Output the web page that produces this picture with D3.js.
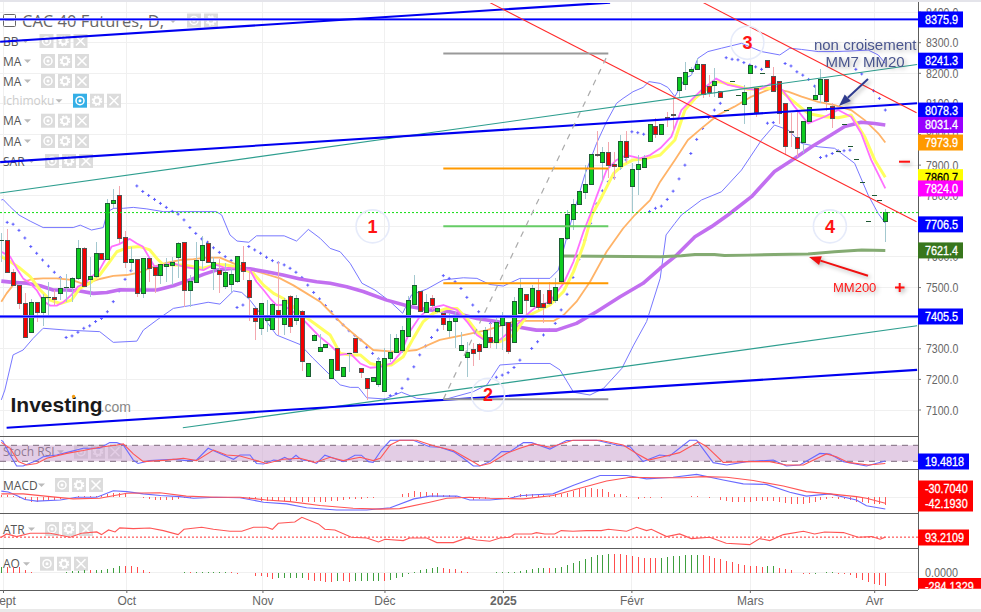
<!DOCTYPE html>
<html><head><meta charset="utf-8">
<script src="https://cdn.jsdelivr.net/npm/d3@7"></script>
<style>html,body{margin:0;padding:0;background:#fff;overflow:hidden}text{font-family:"Liberation Sans",Arial,sans-serif}</style>
</head><body><svg id="c" width="981" height="612"></svg>
<script>
const title="CAC 40 Futures, D,";
const opens=[7653,7657,7552,7507,7448,7354,7452,7421,7467,7468,7481,7500,7501,7530,7628,7527,7537,7612,7592,7775,7801,7664,7585,7592,7483,7598,7566,7542,7571,7575,7601,7648,7493,7519,7589,7644,7565,7559,7506,7513,7522,7582,7524,7432,7369,7395,7366,7426,7381,7471,7393,7422,7210,7328,7292,7307,7206,7301,7210,7284,7334,7236,7203,7194,7184,7162,7271,7288,7295,7341,7445,7488,7419,7465,7424,7416,7360,7391,7295,7272,7298,7314,7305,7337,7321,7377,7386,7321,7416,7478,7441,7491,7448,7491,7458,7520,7661,7724,7772,7813,7837,7938,7911,7942,7904,7898,7978,7831,7886,7893,7978,8027,8001,8058,8068,8144,8164,8206,8213,8232,8157,8161,8141,8081,8176,8130,8099,8200,8151,8201,8242,8190,8174,8102,8013,7991,7977,8043,8115,8131,8183,8092,7948,8035,7963,7920,7845,7718,7802,7786,7718];
const highs=[7677,7691,7561,7507,7481,7463,7452,7478,7517,7492,7536,7543,7536,7655,7634,7601,7648,7612,7789,7822,7832,7685,7634,7592,7598,7598,7568,7576,7595,7601,7648,7648,7541,7648,7669,7652,7601,7592,7579,7563,7602,7636,7555,7432,7448,7459,7448,7585,7465,7476,7476,7427,7252,7347,7347,7314,7265,7301,7241,7285,7334,7236,7203,7207,7269,7301,7347,7347,7374,7473,7541,7488,7478,7476,7432,7421,7416,7421,7356,7323,7318,7318,7372,7383,7408,7419,7389,7470,7528,7478,7508,7528,7478,7519,7530,7661,7753,7791,7814,7900,7938,8011,7960,7974,7942,7998,8011,7906,7933,7933,8035,8053,8033,8075,8124,8187,8238,8222,8249,8232,8194,8216,8141,8081,8176,8130,8162,8226,8151,8201,8242,8222,8174,8102,8069,8080,8043,8089,8162,8213,8183,8102,7948,8035,7963,7920,7845,7718,7802,7786,7756];
const lows=[7585,7550,7507,7430,7340,7354,7389,7375,7399,7443,7459,7452,7452,7525,7503,7470,7530,7592,7590,7759,7644,7563,7552,7470,7467,7519,7483,7512,7519,7508,7530,7438,7438,7514,7557,7585,7492,7482,7495,7484,7514,7525,7391,7329,7345,7356,7361,7345,7345,7350,7378,7227,7210,7325,7292,7307,7206,7230,7210,7225,7288,7206,7133,7194,7176,7162,7258,7288,7285,7341,7445,7422,7416,7427,7416,7361,7340,7301,7295,7209,7245,7263,7301,7301,7299,7296,7282,7318,7416,7405,7441,7427,7383,7443,7448,7514,7655,7688,7772,7789,7837,7928,7846,7857,7851,7884,7906,7748,7802,7893,7978,7990,8001,8026,8009,8118,8145,8194,8213,8118,8124,8124,8121,8080,8175,8129,8036,8200,8058,8200,8219,8141,8036,7938,7960,7928,7941,8043,8115,8102,8077,8022,7947,8034,7962,7919,7844,7717,7801,7785,7650];
const closes=[7654,7550,7507,7448,7340,7452,7421,7468,7468,7464,7500,7501,7530,7628,7506,7537,7612,7592,7775,7786,7663,7585,7592,7483,7595,7565,7542,7576,7576,7582,7644,7493,7520,7589,7638,7585,7585,7545,7550,7543,7602,7555,7470,7392,7448,7412,7445,7405,7461,7375,7465,7261,7252,7344,7305,7314,7265,7230,7241,7285,7288,7223,7171,7207,7261,7269,7288,7334,7360,7458,7510,7422,7452,7444,7432,7380,7390,7405,7311,7288,7285,7293,7363,7321,7386,7403,7292,7455,7497,7461,7497,7435,7435,7448,7501,7661,7739,7772,7814,7840,7938,7934,7944,7901,7898,7978,7925,7886,7903,7922,8035,8001,8033,8052,8065,8187,8203,8213,8229,8133,8140,8174,8121,8080,8175,8129,8138,8226,8072,8200,8219,8141,8069,7961,8007,7955,8043,8089,8128,8183,8108,8053,7947,8034,7962,7919,7844,7717,7801,7785,7748];

const mm7=[[0,7617],[1.5,7601],[2.6,7563],[3.7,7530],[4.9,7514],[6,7492],[7.1,7456],[8.3,7441],[9.4,7441],[10.5,7452],[11.9,7476],[13,7503],[14.2,7514],[15.3,7536],[16.5,7552],[17.6,7590],[18.7,7634],[19.9,7641],[21.8,7659],[23,7644],[24,7634],[25.2,7595],[26,7568],[27.5,7574],[29.2,7579],[30.9,7568],[32.6,7563],[34.3,7557],[35.4,7568],[36.5,7574],[38.2,7563],[40.5,7563],[42.2,7557],[43.3,7519],[44.5,7492],[45.6,7465],[46.7,7443],[47.8,7443],[49.5,7421],[51,7399],[52.4,7372],[54,7340],[55.8,7312],[57.5,7280],[59.2,7285],[60.9,7252],[62.6,7238],[64.3,7241],[66.2,7252],[67.9,7290],[69.3,7356],[71,7405],[72.7,7432],[75,7443],[77.3,7427],[79,7389],[80.7,7345],[82.4,7323],[84.6,7329],[86.9,7367],[89.1,7410],[90.8,7438],[93.1,7454],[95.4,7514],[97.1,7585],[98.8,7683],[99.9,7737],[101,7797],[102.7,7884],[104.4,7917],[106.1,7933],[108.4,7922],[110.1,7933],[111.8,7955],[113.7,7993],[115.4,8080],[117.1,8113],[118.8,8145],[121.3,8183],[123.3,8162],[126.1,8151],[128.4,8145],[130.7,8167],[132.6,8145],[134.6,8091],[136.9,8036],[139.7,8058],[142,8080],[144.2,8058],[145.9,8004],[147.6,7917],[150,7824]];
const mm20=[[0,7601],[1.5,7585],[3.2,7563],[4.9,7536],[6.6,7492],[8.3,7459],[10,7448],[11.9,7459],[13.3,7497],[15,7514],[16.7,7541],[18.4,7585],[19.6,7617],[21.3,7630],[23.5,7634],[25.2,7623],[26.4,7595],[27.5,7574],[29.2,7574],[30.9,7574],[32.6,7568],[34.3,7563],[36.5,7576],[38.2,7574],[40.5,7565],[42.8,7546],[44.5,7508],[46.2,7481],[47.8,7465],[49.5,7438],[51.2,7410],[53.5,7378],[55.8,7345],[57.5,7285],[59.2,7280],[60.9,7280],[62.6,7252],[64.3,7245],[66.2,7247],[68.2,7274],[69.9,7334],[71.6,7389],[73.3,7416],[75.6,7432],[77.3,7432],[79,7399],[80.7,7356],[82.4,7323],[84.6,7323],[86.9,7345],[89.1,7405],[90.8,7421],[93.1,7443],[95.4,7487],[97.1,7552],[98.8,7639],[100.2,7737],[101.9,7797],[103.9,7873],[105.5,7900],[107.2,7917],[109.5,7922],[111.8,7933],[114.3,7982],[116,8080],[117.7,8118],[119.4,8145],[121.6,8173],[124.2,8162],[126.7,8148],[129.5,8151],[131.8,8151],[134.1,8113],[136.9,8069],[139.7,8058],[142,8055],[144.2,8064],[146.5,7993],[148.2,7917],[150,7860.7]];
const mmOrange=[[0,7454],[0.9,7481],[2,7508],[3.7,7519],[5.4,7528],[7.1,7530],[9.4,7530],[11.9,7525],[13.9,7512],[15.3,7519],[16.7,7528],[19,7538],[21.3,7541],[23.5,7550],[25.8,7568],[28,7581],[30.3,7590],[32.6,7593],[34.8,7598],[37.1,7598],[39.4,7579],[41.6,7563],[44.5,7546],[47.3,7530],[49.5,7508],[51.8,7481],[54.1,7454],[55.8,7421],[58,7378],[60.3,7340],[63.1,7296],[67.1,7290],[70.5,7296],[74.4,7329],[78.4,7345],[82.4,7361],[85.2,7378],[87.4,7391],[90.8,7391],[93.7,7391],[95.4,7410],[97.6,7454],[99.9,7519],[102.7,7617],[105.5,7693],[107.5,7737],[110.1,7786],[111.8,7846],[114.3,7917],[116.5,7982],[118.8,8020],[121.6,8064],[124.4,8091],[127.3,8124],[130.7,8151],[133.5,8140],[135.8,8124],[138.6,8107],[141.4,8096],[144.2,8080],[146.5,8047],[148.8,8004],[150,7973.9]];
const mmPurple=[[0,7521],[2,7517],[4.3,7514],[6.6,7506],[8.8,7492],[11.1,7492],[13.3,7489],[15.6,7481],[17.9,7484],[20.1,7493],[23,7492],[26.4,7492],[29.2,7506],[32,7525],[34.3,7543],[36.5,7557],[39.4,7563],[42.2,7561],[45,7552],[47.8,7541],[50.7,7528],[53.5,7519],[55.8,7514],[58.6,7503],[61.4,7487],[65.4,7459],[69.3,7438],[72.7,7427],[76.1,7421],[80.7,7399],[84.1,7389],[87.4,7372],[90.8,7361],[94.2,7361],[97.6,7383],[101,7421],[105,7470],[108.9,7514],[111.8,7563],[114.3,7601],[117.7,7666],[120.5,7699],[123.3,7737],[127.3,7797],[131.2,7879],[134.6,7922],[137.5,7960],[140.3,7993],[143.1,8026],[145.9,8040],[148.2,8036],[150,8031.4]];
const mm200=[[95.4,7603],[111.8,7601],[115.4,7604],[117.7,7608],[121,7608],[122.7,7605],[126.7,7606],[131.2,7608],[136.9,7610],[141.4,7617],[146,7623],[150,7621.4]];
const bbUpper=[[0,7786],[0.3,7788],[1.5,7764],[3,7737],[4.9,7717],[7.1,7696],[12.2,7696],[13.4,7704],[15.3,7688],[17.3,7696],[18,7748],[19.1,7759],[20.7,7759],[22.4,7762],[24.7,7757],[27.5,7748],[29.7,7748],[33.7,7748],[36.5,7748],[37.4,7737],[38.8,7672],[40,7652],[42,7648],[43.3,7669],[48,7669],[50.1,7652],[52.1,7690],[54.1,7661],[55.8,7628],[57.5,7617],[59.2,7579],[61.2,7514],[63.4,7492],[66,7454],[68.1,7416],[69.6,7476],[72.2,7495],[75,7525],[78.4,7532],[80.7,7530],[82.9,7510],[85.2,7505],[88,7530],[93.1,7530],[94.5,7557],[96.2,7683],[99,7868],[101,7971],[102.7,8042],[104.4,8102],[105.5,8118],[107.2,8140],[108.9,8154],[109.9,8173],[111.8,8167],[113.1,8154],[114.3,8124],[116,8183],[117.1,8194],[118.2,8249],[119.9,8271],[122.2,8282],[125.6,8298],[129,8271],[132.1,8260],[133.8,8282],[135.8,8278],[138.6,8271],[141.4,8271],[144.2,8273],[147.1,8276],[148.8,8260],[150,8232]];
const bbLower=[[0,7133],[0.6,7165],[2,7280],[3.7,7296],[5.4,7334],[7.1,7367],[11.1,7361],[16.7,7356],[19,7321],[23,7325],[24.1,7361],[26.4,7394],[29.2,7432],[32.6,7443],[35.1,7452],[37.1,7446],[39.4,7489],[40.8,7484],[42.2,7459],[45,7389],[46.7,7345],[50.7,7314],[52.9,7269],[55.8,7214],[57.5,7182],[59.2,7174],[60.6,7174],[62,7140],[65.1,7136],[67.9,7158],[70.5,7138],[75,7133],[80.1,7160],[82.4,7182],[84.6,7247],[88,7252],[93.1,7252],[94.8,7231],[97.1,7158],[99.9,7149],[102.2,7171],[105.3,7236],[107.3,7312],[109.5,7389],[111.8,7530],[112.8,7672],[114.3,7710],[115.4,7737],[118.8,7786],[122.2,7813],[125.6,7884],[129,7982],[131.2,8031],[133.5,8015],[135.8,7971],[138.6,7960],[141.4,7955],[144.8,7906],[147.1,7802],[148.8,7742],[150,7710]];
const sar=[[1,7713],[2,7707],[3,7687],[4,7662],[5,7634],[6,7612],[7,7590],[8,7570],[9,7550],[10,7533],[11,7337],[12,7342],[13,7354],[14,7367],[15,7375],[16,7389],[17,7399],[18,7421],[19,7454],[20,7489],[21,7527],[22,7555],[23,7832],[24,7814],[25,7801],[26,7788],[27,7775],[28,7762],[29,7749],[30,7740],[31,7721],[32,7696],[33,7677],[34,7659],[35,7648],[36,7630],[37,7615],[38,7601],[39,7588],[40,7435],[41,7443],[42,7634],[43,7623],[44,7612],[45,7599],[46,7588],[47,7581],[48,7574],[49,7563],[50,7550],[51,7533],[52,7508],[53,7484],[54,7463],[55,7441],[56,7421],[57,7396],[58,7378],[59,7359],[60,7343],[61,7329],[62,7305],[63,7285],[64,7267],[65,7133],[66,7147],[67,7154],[68,7171],[69,7201],[70,7241],[71,7280],[72,7309],[73,7337],[74,7361],[75,7539],[76,7530],[77,7519],[78,7497],[79,7468],[80,7443],[81,7421],[82,7399],[83,7383],[84,7207],[85,7214],[86,7222],[87,7239],[88,7263],[90,7301],[91,7323],[92,7345],[93,7361],[94,7383],[95,7427],[96,7478],[97,7533],[98,7592],[99,7655],[100,7710],[101,7773],[102,7816],[103,7846],[104,7859],[105,7889],[106,7917],[107,8009],[108,8006],[109,8001],[110,7748],[111,7759],[112,7766],[113,7788],[114,7815],[115,7855],[116,7900],[117,7938],[118,7984],[119,8020],[120,8056],[121,8080],[122,8102],[123,8251],[124,8246],[125,8244],[126,8235],[127,8227],[128,8221],[129,8213],[130,8037],[131,8039],[133,8232],[134,8224],[135,8205],[136,8194],[137,8180],[138,8158],[139,7925],[140,7930],[141,7938],[142,7947],[143,7947],[144,7949],[145,8213],[146,8198],[148,8143],[149,8118],[150,8080]];

const stochBlue=[[0,100],[0.3,95],[1.5,43],[2.6,0],[3.7,0],[6,21],[7.1,36],[9.4,43],[11.7,56],[13.9,69],[16.7,69],[18.4,91],[19.6,91],[20.7,82],[22.4,23],[23.2,10],[25.2,21],[29.2,26],[31.4,21],[33.1,23],[35.1,69],[37.1,49],[39.4,26],[40.5,43],[42.2,43],[43.3,10],[44.5,8],[46.2,23],[47,21],[48.1,34],[49,23],[50,42],[51,23],[52.1,21],[53.5,10],[54.9,42],[56.9,26],[58,17],[60,42],[61.1,42],[62.3,17],[63.1,14],[64.5,62],[66,100],[69.9,100],[72.7,75],[74.4,73],[76.7,56],[78.4,30],[80.1,0],[81.2,0],[82.9,17],[84.9,56],[86.3,56],[88.6,91],[90,91],[93.1,66],[95.9,99],[101,100],[104.4,82],[106.7,75],[108.9,17],[111.7,43],[113.4,39],[116.8,100],[118,100],[120.8,13],[123.1,4],[126.5,17],[131,23],[133.2,0],[135.5,4],[138.9,49],[140.6,47],[142.9,17],[146.8,0],[150,19.48]];
const stochRed=[[0,92],[1.5,69],[2.9,17],[4.3,4],[6,10],[7.7,30],[11.1,49],[13.9,60],[16.7,73],[19.6,82],[20.7,86],[22.4,47],[24.1,17],[28.1,23],[30.9,30],[33.1,21],[36,62],[38.2,43],[40.5,39],[43.3,21],[45,10],[47.8,26],[50.7,30],[53.2,14],[55.8,34],[58,21],[60.9,34],[63.1,21],[64.3,30],[66,82],[67.6,100],[70.5,100],[73.3,79],[76.7,60],[79,30],[81.2,1],[82.9,10],[85.7,49],[88,69],[90.3,86],[93.1,73],[97,100],[101.6,100],[105.5,82],[107.8,49],[109.8,23],[112.3,36],[115.1,52],[118.3,94],[119.7,75],[122.5,14],[126.5,17],[130.4,17],[133.2,4],[136.1,4],[140,47],[141.7,36],[143.7,14],[147.1,4],[150,10]];
const macdBlue=[[0,22],[1.2,19],[2.6,6],[4,-8],[6,-14],[10,-10],[12.8,0],[16.2,0],[19,23],[21.3,20],[24.1,12],[27,6],[30.3,2],[32.6,-4],[36.5,0],[40.5,-2],[44.5,-18],[48.4,-24],[51.8,-38],[56.9,-46],[62,-46],[66,-38],[70,-6],[72.7,4],[77.3,4],[79.5,-10],[82.9,-10],[86.3,-4],[88,5],[89.7,8],[93.6,12],[97,42],[101.6,78],[106.1,78],[109.5,66],[114,72],[118,82],[122.5,62],[125.9,48],[129.8,46],[133.8,18],[136.6,4],[140.6,12],[145.1,-10],[146.8,-31],[150,-42.19]];
const macdRed=[[0,12],[3.7,12],[8.3,2],[12.2,-6],[16.7,-4],[21.3,14],[26.9,16],[31.4,4],[36.5,0],[40.5,0],[45,-10],[49,-16],[54.1,-30],[59.7,-40],[64.3,-43],[67.6,-41],[72.7,-18],[75.6,-4],[79.5,0],[82.9,-4],[88.6,-6],[93.6,6],[99.9,42],[102.7,58],[106.7,72],[111.2,70],[115.7,70],[119.1,74],[123.1,72],[127.6,60],[132.7,40],[136.6,20],[140.6,12],[145.1,2],[146.8,-4],[150,-22]];
const macdHist=[7,8,6,-2,-11,-16,-18,-14,-13,-10,-5,-1,1,5,5,5,5,7,12,16,16,10,2,0,-2,-6,-10,-11,-11,-10,-6,-4,-2,0,1,1,1,0,-1,-1,-1,-2,-5,-8,-12,-14,-14,-14,-14,-14,-14,-16,-18,-17,-16,-16,-13,-12,-11,-8,-6,-5,-2,-2,0,0,0,1,10,16,24,20,18,16,16,8,7,4,1,-2,-11,-8,-5,-1,0,0,4,6,10,10,10,10,8,6,10,12,16,22,28,32,34,30,28,19,13,10,6,0,-5,-4,-2,-1,-2,-1,-1,1,2,5,6,0,-2,-1,-11,-13,-17,-17,-19,-16,-14,-12,-12,-12,-16,-20,-23,-26,-23,-20,-17,-11,-5,-2,-5,-8,-11,-16,-19,-20,-23,-25,-28];
const atrLine=[[0,93],[0.9,98],[2.6,94],[4.9,99],[8.3,99],[11.7,93],[13.6,99],[16.2,101],[17,97],[18.2,104],[19.3,101],[20.1,107],[22.4,106],[25.2,107],[27.5,103],[30,97],[31,105],[34,108],[36,105],[38.8,102],[40.8,102],[42.8,108],[45,108],[46,105],[47,114],[49.8,116],[51,123],[53.8,113],[54.9,105],[56.6,104],[59.4,93],[62,92],[64,86],[65.1,90],[68.2,88],[69.3,92],[72.2,92],[73.9,85],[76.7,85],[79,92],[80.7,89],[82.9,87],[84.6,92],[86.3,93],[87.1,98],[90,98],[90.8,100],[92.2,98],[93.9,98],[95,103],[97,102],[99.3,103],[101.8,103],[103,105],[106.1,102],[107.8,108],[109.5,103],[110.3,105],[112.9,94],[115.1,98],[117.1,91],[120.2,93],[123,84],[127,82],[128.7,91],[130.4,88],[132.7,97],[136.1,102],[138,98],[139.7,101],[142.9,100],[145.4,93],[147.7,94],[149.1,90],[150,93.21]];
const atrLevel=93.21;
const aoValues=[135,131,128,117,58,22,0,-15,-15,-7,0,7,29,44,51,50,58,66,80,110,150,146,145,117,58,15,0,0,0,0,0,7,5,7,8,8,9,9,9,6,-20,-15,-14,-66,-80,-102,-131,-124,-123,-117,-116,-115,-168,-175,-176,-204,-212,-183,-190,-204,-190,-183,-182,-181,-180,-185,-153,-124,-102,-22,7,58,73,102,131,95,88,73,44,7,-7,-5,-4,0,7,8,9,22,44,58,73,102,103,100,110,131,168,212,263,307,350,387,388,409,405,404,380,365,343,329,321,320,322,343,358,372,387,388,394,387,365,321,292,255,234,197,168,146,145,131,153,154,95,80,58,0,-29,-36,-22,-7,14,15,-22,-36,-58,-110,-160,-204,-248,-263,-284];

const monthLabels=["Sept","Oct","Nov","Déc","2025","Févr","Mars","Avr"];
const monthIndex=[0.37,21.3,44.4,65.1,85.2,107,127.1,148.2];
const priceTicks=[8400,8300,8200,8100,8000,7900,7800,7700,7600,7500,7400,7300,7200,7100];
const priceTags=[["8375.9",8376,"#0000ff","#fff"],["8241.3",8241.3,"#0000ff","#fff"],["8078.3",8078.3,"#0000ff","#fff"],["8031.4",8031.4,"#9900ff","#fff"],["7973.9",7973.9,"#ff9900","#fff"],["7860.7",7860.7,"#ffff00","#000"],["7824.0",7824,"#ff00ff","#fff"],["7706.5",7706.5,"#0000ff","#fff"],["7621.4",7621.4,"#38761d","#fff"],["7405.5",7405.5,"#0000ff","#fff"]];
const fibLevels=[[8265,"#999999"],[7889,"#ff9900"],[7700,"#66cc66"],[7514,"#ff9900"],[7135,"#999999"]];
const fibSpan=[75,103];
const blueSegments=[[[-0.2,8303],[103.3,8431]],[[-0.2,7910],[155.4,8102]],[[0.9,7042],[155.4,7231]]];
const tealSegments=[[[-0.2,7809],[155.4,8229]],[[30.8,7042],[155.4,7375]]];
const redSegments=[[[82.9,8431],[155.3,7715]],[[119.1,8431],[155.3,8071]]];
const blueLevels=[8376,7405.5];
const dottedLevel=7745;
const circled=[["1",63,7700],["2",82.6,7150],["3",126.6,8300],["4",140.6,7700]];

const svg=d3.select("#c");
const W=981,H=612,R=918;
const x=d3.scaleLinear().domain([0,150]).range([1.3,885.3]);
const y=d3.scaleLinear().domain([7100,8400]).range([410,12.1]);
const yStoch=d3.scaleLinear().domain([0,100]).range([466,440.3]);
const yMacd=d3.scaleLinear().domain([-100,100]).range([525,469.4]);
const yAtr=d3.scaleLinear().domain([70,130]).range([552.6,512.6]);
const yAo=d3.scaleLinear().domain([-400,400]).range([591,554.4]);
const defs=svg.append("defs");
const clip=(id,a,b,c,d)=>defs.append("clipPath").attr("id",id).append("rect").attr("x",a).attr("y",b).attr("width",c).attr("height",d);
clip("main",0,3,R,433);clip("stoch",0,437,R,32);clip("macd",0,470,R,43);clip("atr",0,514,R,34);clip("ao",0,549,R,41);clip("tagEnd",918,578,63,10.7);clip("page",0,0,R+60,H);

svg.append("rect").attr("width",W).attr("height",H).attr("fill","#fff");
svg.append("rect").attr("width",W).attr("height",2).attr("fill","#e4e4ea");
svg.append("rect").attr("y",609).attr("width",W).attr("height",3).attr("fill","#e9e9e9");

/* narrowed text: the reference's labels are a little condensed */
function squeeze(t,f=0.9){const n=t.node();t.attr("textLength",n.getComputedTextLength()*f).attr("lengthAdjust","spacingAndGlyphs");return t;}

/* grid */
const grid=svg.append("g").attr("stroke","#f0f0f0").attr("stroke-width",1).attr("shape-rendering","crispEdges");
priceTicks.forEach(p=>grid.append("line").attr("x1",0).attr("x2",R).attr("y1",y(p)).attr("y2",y(p)));
monthIndex.forEach(i=>grid.append("line").attr("x1",x(i)).attr("x2",x(i)).attr("y1",2).attr("y2",590));
grid.append("line").attr("x1",0).attr("x2",R).attr("y1",yMacd(0)+.5).attr("y2",yMacd(0)+.5);
grid.append("line").attr("x1",0).attr("x2",R).attr("y1",yAo(0)).attr("y2",yAo(0));

/* price tick labels */
const ax=svg.append("g");
priceTicks.forEach(p=>{squeeze(ax.append("text").attr("x",926).attr("y",y(p)+4.5).attr("font-size",12).attr("fill","#666").text(p.toFixed(1)),.88);
 ax.append("line").attr("x1",R).attr("x2",R+3).attr("y1",y(p)).attr("y2",y(p)).attr("stroke","#777");});

/* legend */
function icons(g,xs,cy,act){xs.forEach((a,k)=>{
 const s=g.append("g").attr("transform",`translate(${a+7},${cy})`);
 s.append("rect").attr("x",-7).attr("y",-7).attr("width",14).attr("height",14).attr("fill",k==0&&act?"#35afe6":"#dcdcdc");
 if(k==0){s.append("circle").attr("r",4).attr("fill","none").attr("stroke","#fff").attr("stroke-width",1.5);s.append("circle").attr("r",1.5).attr("fill","#fff");}
 if(k==1){s.append("circle").attr("r",3.2).attr("fill","none").attr("stroke","#fff").attr("stroke-width",2);s.append("circle").attr("r",4.6).attr("fill","none").attr("stroke","#fff").attr("stroke-width",1.4).attr("stroke-dasharray","2 1.6");}
 if(k==2){s.append("path").attr("d","M-4.5,-4.5L4.5,4.5M-4.5,4.5L4.5,-4.5").attr("stroke","#fff").attr("stroke-width",1.6);}
});}
const lg=svg.append("g");
function legend(txt,col,tri,xs,cy,act){
 lg.append("text").attr("x",3).attr("y",cy+4.5).attr("style",'font-family:"Open Sans"').attr("font-size",12).attr("fill",col).text(txt);
 lg.append("path").attr("d",`M${tri-3},${cy-1.5}h7l-3.5,3.5z`).attr("fill","#bbb");
 icons(lg,xs,cy,act);}
lg.append("rect").attr("x",3.5).attr("y",14.5).attr("width",12).attr("height",12).attr("rx",1).attr("fill","none").attr("stroke","#666");
lg.append("line").attr("x1",5).attr("x2",14).attr("y1",20.5).attr("y2",20.5).attr("stroke","#666");
lg.append("text").attr("x",22).attr("y",26.5).attr("style",'font-family:"Open Sans"').attr("font-size",16.5).attr("fill","#666").text(title);
lg.append("path").attr("d","M169,19h8l-4,4z").attr("fill","#bbb");
icons(lg,[187,204],20.5,false);
legend("BB","#555",25,[39.5,56.5,73.5],41);
legend("MA","#555",27,[41,58,75],61);
legend("MA","#555",27,[41,58,75],81);
legend("Ichimoku","#ccc",58.5,[73,90,107],100.7,true);
legend("MA","#555",27,[41,58,75],120.7);
legend("MA","#555",27,[41,58,75],141);
legend("SAR","#555",31,[45,62,79],161);

/* logo */
const logo=svg.append("g");
logo.append("text").attr("x",10.5).attr("y",411.7).attr("font-size",21).attr("font-weight","bold").attr("fill","#1a1a1a").text("Investing");
logo.append("circle").attr("cx",73.6).attr("cy",396.5).attr("r",1.7).attr("fill","#f39c12");
logo.append("text").attr("x",100.5).attr("y",412).attr("font-size",14).attr("fill","#888").text(".com");

/* main plot */
const m=svg.append("g").attr("clip-path","url(#main)");
const lineMain=d3.line().x(d=>x(d[0])).y(d=>y(d[1])).curve(d3.curveLinear);
const stroke=(g,data,col,w,op=1)=>g.append("path").datum(data).attr("d",lineMain).attr("fill","none").attr("stroke",col).attr("stroke-width",w).attr("opacity",op).attr("stroke-linejoin","round");
stroke(m,bbUpper,"#7878ff",1);stroke(m,bbLower,"#7878ff",1);
const sarG=m.append("g").attr("stroke","#5a5aff").attr("stroke-width",1);
sar.forEach(d=>{const a=x(d[0]),b=y(d[1]);sarG.append("path").attr("d",`M${a-1.5},${b}h3M${a},${b-1.5}v3`);});
stroke(m,mmOrange,"#ffb368",1.8);
stroke(m,mmPurple,"#c26ff0",3.6);
stroke(m,mm200,"#84ab72",3);
stroke(m,mm20,"#ffff60",3);
stroke(m,mm7,"#ff70ff",1.8);

const cg=m.append("g").attr("shape-rendering","crispEdges");
opens.forEach((o,i)=>{const c=closes[i],up=c>=o,cx=Math.round(x(i))+.5;
 cg.append("line").attr("x1",cx).attr("x2",cx).attr("y1",y(highs[i])).attr("y2",y(lows[i])).attr("stroke",up?"#a3c8cf":"#f3a7ae");
 if(Math.abs(o-c)<=1){
  cg.append("line").attr("x1",cx-2.5).attr("x2",cx+2.5).attr("y1",Math.round(y(c))+.5).attr("y2",Math.round(y(c))+.5).attr("stroke","#1e5632");
  return;}
 const top=Math.round(y(Math.max(o,c))),bot=Math.round(y(Math.min(o,c)));
 cg.append("rect").attr("x",cx-2).attr("y",top+.5).attr("width",4).attr("height",Math.max(1,bot-top))
  .attr("fill",up?"#0ecb1f":"#f40000").attr("stroke",up?"#1c5e33":"#555").attr("stroke-width",1);
});

/* trend lines */
blueLevels.forEach(p=>{m.append("line").attr("x1",0).attr("x2",R).attr("y1",y(p)).attr("y2",y(p)).attr("stroke","#8a8aff").attr("stroke-width",2.8);
 m.append("line").attr("x1",0).attr("x2",R).attr("y1",y(p)).attr("y2",y(p)).attr("stroke","#0000ff").attr("stroke-width",1.3);});
m.append("line").attr("x1",0).attr("x2",R).attr("y1",y(dottedLevel)).attr("y2",y(dottedLevel)).attr("stroke","#11dd11").attr("stroke-width",1).attr("stroke-dasharray","2 2");
tealSegments.forEach(s=>stroke(m,s,"#2e9e8f",1.1));
blueSegments.forEach(s=>stroke(m,s,"#0000f0",2.1));
redSegments.forEach(s=>stroke(m,s,"#ff2a2a",1.1));
fibLevels.forEach(f=>m.append("line").attr("x1",x(fibSpan[0])).attr("x2",x(fibSpan[1])).attr("y1",y(f[0])).attr("y2",y(f[0])).attr("stroke",f[1]).attr("stroke-width",2));
m.append("line").attr("x1",x(fibSpan[0])).attr("x2",x(fibSpan[1])).attr("y1",y(fibLevels[4][0])).attr("y2",y(fibLevels[0][0])).attr("stroke","#aaa").attr("stroke-width",1.2).attr("stroke-dasharray","6 6");

/* annotations */
circled.forEach(c=>{
 m.append("circle").attr("cx",x(c[1])).attr("cy",y(c[2])).attr("r",16.5).attr("fill","none").attr("stroke","#e6ebfa").attr("stroke-width",1.6);
 m.append("text").attr("x",x(c[1])).attr("y",y(c[2])+6.5).attr("text-anchor","middle").attr("font-size",18).attr("font-weight","bold").attr("fill","#ff1414").text(c[0]);
});
const sh="filter:drop-shadow(2px 2px 2px rgba(0,0,0,.3))";
const noteCol="#4a568f";
m.append("text").attr("x",916.5).attr("y",50).attr("text-anchor","end").attr("font-size",15).attr("fill",noteCol).attr("style",sh).text("non croisement");
m.append("text").attr("x",865).attr("y",67).attr("text-anchor","middle").attr("font-size",15).attr("fill",noteCol).attr("style",sh).text("MM7 MM20");
function arrow(a,b,c,d,col,w){
 const ang=Math.atan2(d-b,c-a),l=12,s=4.5;
 const bx=c-l*Math.cos(ang),by=d-l*Math.sin(ang);
 const g=m.append("g").attr("style",sh);
 g.append("line").attr("x1",a).attr("y1",b).attr("x2",bx).attr("y2",by).attr("stroke",col).attr("stroke-width",w);
 g.append("path").attr("d",`M${c},${d}L${bx-s*Math.sin(ang)},${by+s*Math.cos(ang)}L${bx+s*Math.sin(ang)},${by-s*Math.cos(ang)}Z`).attr("fill",col);
}
arrow(868,79,839,106,"#2f3c8e",2);
arrow(868,275.7,809,257,"#f01010",2);
m.append("text").attr("x",833).attr("y",291.5).attr("font-size",13).attr("fill","#ff1a1a").attr("style",sh).text("MM200");
m.append("path").attr("d","M895,287.5h9.5M899.7,283v9").attr("stroke","#ff1010").attr("stroke-width",2).attr("fill","none").attr("style",sh);
m.append("path").attr("d","M899,161.7h11").attr("stroke","#ff1010").attr("stroke-width",2).attr("fill","none").attr("style",sh);

/* stoch */
const st=svg.append("g").attr("clip-path","url(#stoch)");
st.append("rect").attr("x",0).attr("y",445.3).attr("width",R).attr("height",16).attr("fill","#c79bcb").attr("opacity",.5);
[445.3,461.3].forEach(v=>st.append("line").attr("x1",0).attr("x2",R).attr("y1",v).attr("y2",v).attr("stroke","#7d6a7d").attr("stroke-width",1).attr("stroke-dasharray","6 5"));
const ls=d3.line().x(d=>x(d[0])).y(d=>yStoch(d[1]));
st.append("path").attr("d",ls(stochBlue)).attr("fill","none").attr("stroke","#6a6aff").attr("stroke-width",1.1);
st.append("path").attr("d",ls(stochRed)).attr("fill","none").attr("stroke","#ff5555").attr("stroke-width",1.1);

/* macd */
const mc=svg.append("g").attr("clip-path","url(#macd)");
macdHist.forEach((v,i)=>{if(v!==0)mc.append("line").attr("x1",Math.round(x(i))+.5).attr("x2",Math.round(x(i))+.5).attr("y1",yMacd(0)).attr("y2",yMacd(v)).attr("stroke","#ff5a5a").attr("shape-rendering","crispEdges");});
const lm=d3.line().x(d=>x(d[0])).y(d=>yMacd(d[1]));
mc.append("path").attr("d",lm(macdBlue)).attr("fill","none").attr("stroke","#6a6aff").attr("stroke-width",1.1);
mc.append("path").attr("d",lm(macdRed)).attr("fill","none").attr("stroke","#ff5555").attr("stroke-width",1.1);

/* atr */
const at=svg.append("g").attr("clip-path","url(#atr)");
at.append("line").attr("x1",0).attr("x2",R).attr("y1",yAtr(atrLevel)).attr("y2",yAtr(atrLevel)).attr("stroke","#ff3030").attr("stroke-dasharray","2 2");
at.append("path").attr("d",d3.line().x(d=>x(d[0])).y(d=>yAtr(d[1]))(atrLine)).attr("fill","none").attr("stroke","#ff5555").attr("stroke-width",1.1);

/* ao */
const ao=svg.append("g").attr("clip-path","url(#ao)");
aoValues.forEach((v,i)=>{if(v===0)return;const up=i==0||v>=aoValues[i-1];
 ao.append("line").attr("x1",Math.round(x(i))+.5).attr("x2",Math.round(x(i))+.5).attr("y1",yAo(0)).attr("y2",yAo(v)).attr("stroke",up?"#3f9f3f":"#ff4d4d").attr("shape-rendering","crispEdges");});

/* lower legends */
legend("Stoch RSI","#555",60,[74,91,108],451.7);
legend("MACD","#555",41,[55,72,89],485);
legend("ATR","#555",31,[45,62,79],529);
legend("AO","#555",26,[40,57,74],563.7);

/* frames */
const fr=svg.append("g").attr("stroke","#5c5c5c").attr("shape-rendering","crispEdges");
[436,469,513,548,590].forEach(v=>fr.append("line").attr("x1",0).attr("x2",R).attr("y1",v).attr("y2",v).attr("stroke-width",1));
fr.append("line").attr("x1",R).attr("x2",R).attr("y1",2).attr("y2",590).attr("stroke-width",1);

/* price tags */
function tag(txt,cy,bg,fg,right,g=svg){
 g.append("rect").attr("x",R).attr("y",cy-8).attr("width",right-R).attr("height",16).attr("fill",bg);
 squeeze(g.append("text").attr("x",925).attr("y",cy+4.5).attr("font-size",12).attr("fill",fg).attr("stroke",fg).attr("stroke-width",.3).text(txt),.9);
}
priceTags.forEach(t=>tag(t[0],y(t[1]),t[2],t[3],963));
tag("19.4818",461.5,"#0000ff","#fff",969);
tag("-30.7040",488.5,"#ff0000","#fff",973);
tag("-42.1930",503.5,"#ff0000","#fff",973);
tag("93.2109",537.5,"#ff0000","#fff",969);
squeeze(svg.append("text").attr("x",925).attr("y",577).attr("font-size",12).attr("fill","#666").text("0.0000"),.9);
const tagG=svg.append("g").attr("clip-path","url(#tagEnd)");
tag("-284.1329",586,"#ff0000","#fff",981,tagG);

/* x axis */
const xa=svg.append("g").attr("clip-path","url(#page)");
monthLabels.forEach((t,k)=>{
 xa.append("line").attr("x1",x(monthIndex[k])).attr("x2",x(monthIndex[k])).attr("y1",590).attr("y2",593).attr("stroke","#666");
 xa.append("text").attr("x",x(monthIndex[k])).attr("y",605).attr("text-anchor","middle").attr("font-size",12).attr("font-weight",t=="2025"?"bold":"normal").attr("fill","#666").text(t);
});
</script></body></html>
